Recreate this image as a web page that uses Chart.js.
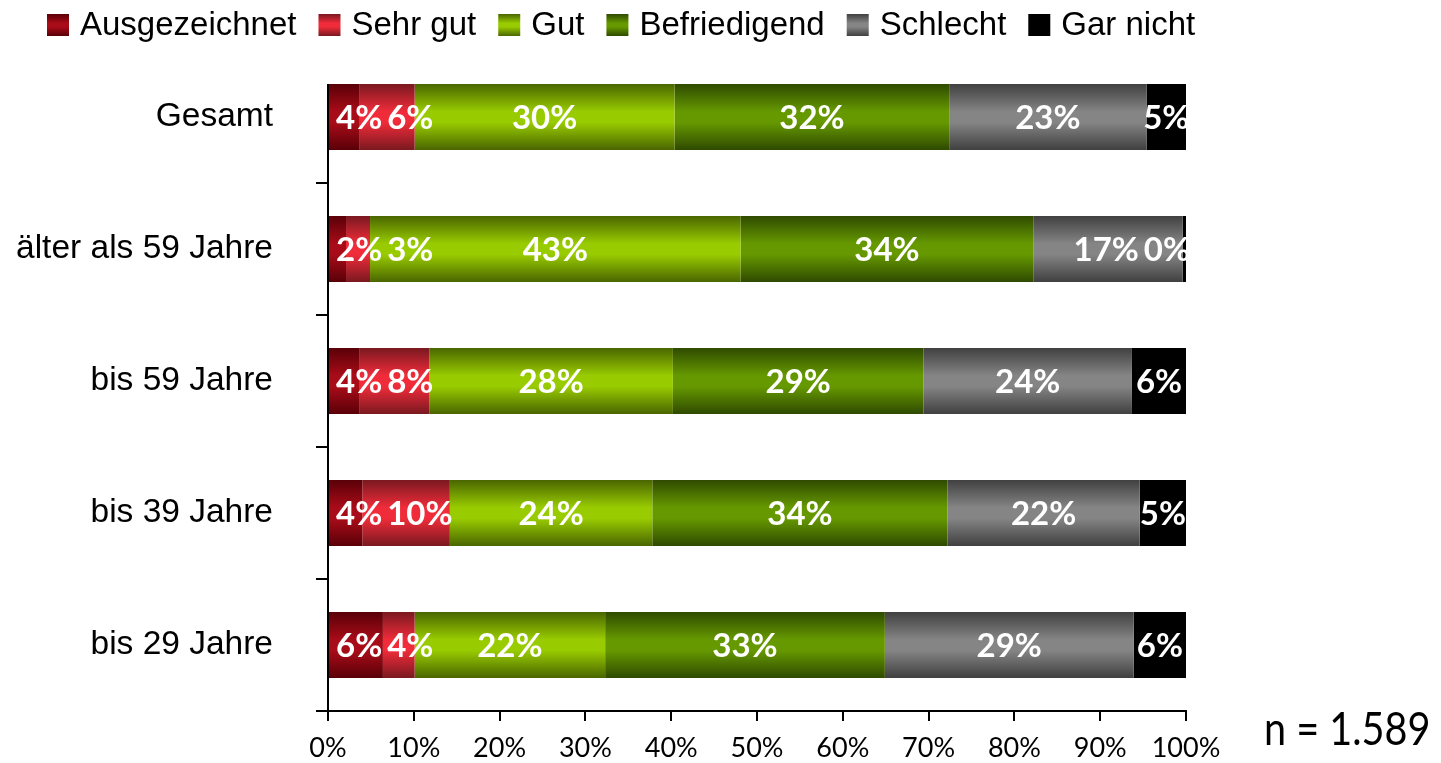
<!DOCTYPE html>
<html>
<head>
<meta charset="utf-8">
<script src="https://cdn.jsdelivr.net/npm/chart.js@4.4.1/dist/chart.umd.min.js"></script>
<style>
  html, body { margin: 0; padding: 0; background: #fff; }
  #wrap { position: relative; width: 1441px; height: 763px; }
</style>
</head>
<body>
<div id="wrap"><canvas id="chart" width="1441" height="763"></canvas></div>
<script>
// groups top to bottom
const groups = ["Gesamt", "älter als 59 Jahre", "bis 59 Jahre", "bis 39 Jahre", "bis 29 Jahre"];
const ratings = ["Ausgezeichnet", "Sehr gut", "Gut", "Befriedigend", "Schlecht", "Gar nicht"];

// shares in %
const ausgezeichnet = [3.7, 2.1, 3.7, 4.0, 6.4];
const sehrGut       = [6.4, 2.8, 8.1, 10.2, 3.7];
const gut           = [30.3, 43.2, 28.4, 23.6, 22.2];
const befriedigend  = [32.0, 34.1, 29.2, 34.4, 32.6];
const schlecht      = [23.0, 17.4, 24.3, 22.4, 29.0];
const garNicht      = [4.6, 0.4, 6.3, 5.4, 6.1];

const xTickStep = 10;
const sampleSize = "n = 1.589";

// [edge, middle] of the tube-like fill
const shades = [
    ["#5a0008", "#a80c18"],
    ["#7a1820", "#f02c3a"],
    ["#4a6600", "#99cc00"],
    ["#2f4a00", "#669900"],
    ["#404040", "#858585"],
    ["#000000", "#000000"]
];

const series = [ausgezeichnet, sehrGut, gut, befriedigend, schlecht, garNicht];

function tube(ctx2d, top, bottom, i) {
    const g = ctx2d.createLinearGradient(0, top, 0, bottom);
    g.addColorStop(0, shades[i][0]);
    g.addColorStop(0.42, shades[i][1]);
    g.addColorStop(0.58, shades[i][1]);
    g.addColorStop(1, shades[i][0]);
    return g;
}

function barFill(i) {
    return c => {
        const chart = c.chart;
        if (!chart.chartArea || c.dataIndex === undefined) return shades[i][1];
        const y = chart.scales.y;
        const mid = y.getPixelForValue(c.dataIndex);
        const half = (y.height / groups.length) * 0.25;
        return tube(chart.ctx, mid - half, mid + half, i);
    };
}

// centred labels, pushed apart so they don't run into each other
const barLabels = {
    id: "barLabels",
    afterDatasetsDraw(chart) {
        const { ctx, chartArea } = chart;
        ctx.save();
        ctx.beginPath();
        ctx.rect(chartArea.left, chartArea.top, chartArea.width, chartArea.height);
        ctx.clip();
        ctx.font = "bold 33px Lato";
        ctx.fillStyle = "#fff";
        ctx.textAlign = "left";
        ctx.textBaseline = "middle";
        const gap = 5;
        groups.forEach((g, i) => {
            const items = chart.data.datasets.map((ds, di) => {
                const bar = chart.getDatasetMeta(di).data[i];
                const { x, base, y } = bar.getProps(["x", "base", "y"], true);
                const text = Math.round(ds.data[i]) + "%";
                const w = ctx.measureText(text).width;
                return { text, w, y, left: (x + base) / 2 - w / 2 };
            });
            let prevRight = chartArea.left + 3;
            items.forEach(it => {
                it.left = Math.max(it.left, prevRight + gap);
                prevRight = it.left + it.w;
            });
            let nextLeft = chartArea.right + 4 + gap;
            for (let k = items.length - 1; k >= 0; k--) {
                const it = items[k];
                if (it.left + it.w > nextLeft - gap) it.left = nextLeft - gap - it.w;
                nextLeft = it.left;
            }
            items.forEach(it => ctx.fillText(it.text, it.left, it.y + 1));
        });
        ctx.restore();
    }
};

const extras = {
    id: "extras",
    afterDraw(chart) {
        const ctx = chart.ctx;
        const ys = chart.scales.y;
        ctx.save();
        // y axis line, starting at the top of the first bar
        const top = ys.getPixelForValue(0) - ys.height / groups.length * 0.25;
        ctx.strokeStyle = "#000";
        ctx.lineWidth = 2;
        ctx.beginPath();
        ctx.moveTo(chart.chartArea.left, top);
        ctx.lineTo(chart.chartArea.left, chart.chartArea.bottom);
        ctx.stroke();

        // legend
        ctx.font = "33px 'Liberation Sans'";
        ctx.textBaseline = "middle";
        ctx.textAlign = "left";
        let x = 47;
        const cy = 25;
        ratings.forEach((name, i) => {
            ctx.fillStyle = tube(ctx, cy - 11, cy + 11, i);
            ctx.fillRect(x, cy - 11, 22, 22);
            x += 33;
            ctx.fillStyle = "#000";
            ctx.fillText(name, x, cy + 1);
            x += ctx.measureText(name).width + 22;
        });

        // sample size
        ctx.translate(1264, 730);
        ctx.scale(0.86, 1);
        ctx.font = "46px Lato";
        ctx.fillText(sampleSize, 0, 0);
        ctx.restore();
    }
};

new Chart(document.getElementById("chart"), {
    type: "bar",
    data: {
        labels: groups,
        datasets: ratings.map((name, i) => ({
            label: name,
            data: series[i],
            backgroundColor: barFill(i),
            borderWidth: 0,
            barPercentage: 1,
            categoryPercentage: 0.5
        }))
    },
    options: {
        indexAxis: "y",
        responsive: false,
        animation: false,
        layout: { padding: { top: 51, right: 255, left: 0, bottom: 0 } },
        plugins: { legend: { display: false }, tooltip: { enabled: false } },
        scales: {
            x: {
                stacked: true,
                min: 0,
                max: 100,
                ticks: {
                    stepSize: xTickStep,
                    callback: v => v + "%",
                    color: "#000",
                    font: { family: "Lato", size: 27 },
                    padding: 11
                },
                grid: { drawOnChartArea: false, tickLength: 10, color: "#000", lineWidth: 2 },
                border: { color: "#000", width: 2 },
                afterFit: s => { s.height = 52; }
            },
            y: {
                stacked: true,
                ticks: {
                    color: "#000",
                    font: { family: "Liberation Sans", size: 33.5 },
                    padding: 43
                },
                grid: {
                    drawOnChartArea: false,
                    offset: true,
                    tickLength: 12,
                    lineWidth: 2,
                    color: "#000",
                    tickColor: c => c.index === 0 ? "rgba(0,0,0,0)" : "#000"
                },
                border: { display: false },
                afterFit: s => { s.width = 328; s.paddingTop = 0; s.paddingBottom = 0; }
            }
        }
    },
    plugins: [barLabels, extras]
});
</script>
</body>
</html>
